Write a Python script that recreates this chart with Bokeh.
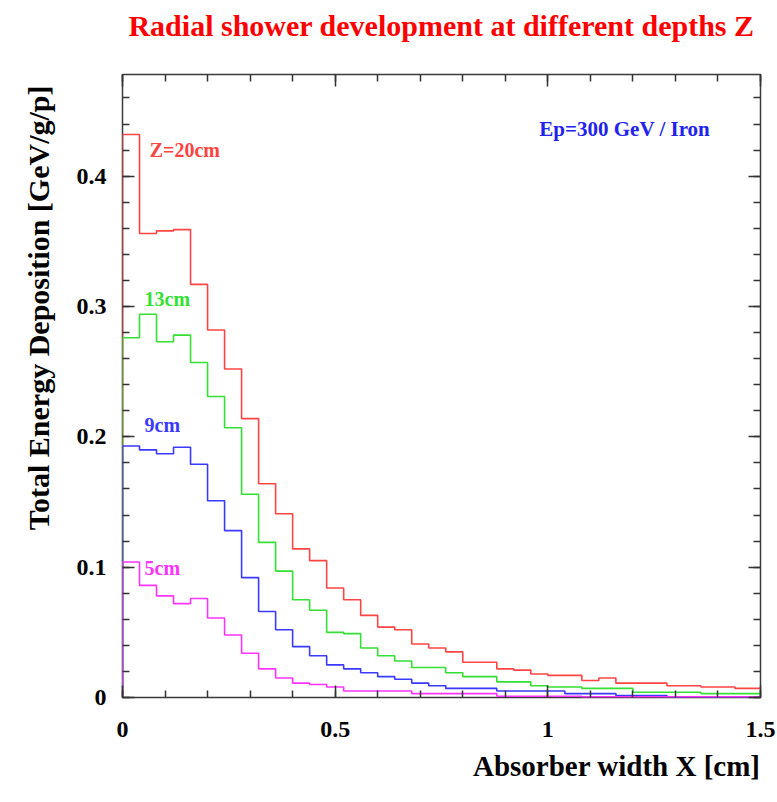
import numpy as np
from bokeh.plotting import figure
from bokeh.models import Range1d, LinearAxis, SingleIntervalTicker, Label, Title
from bokeh.embed import file_html
from bokeh.resources import INLINE

# Bin left edges (cm), bin width 0.04 cm
bin_left = [0.00, 0.04, 0.08, 0.12, 0.16, 0.20, 0.24, 0.28, 0.32, 0.36,
            0.40, 0.44, 0.48, 0.52, 0.56, 0.60, 0.64, 0.68, 0.72, 0.76,
            0.80, 0.84, 0.88, 0.92, 0.96, 1.00, 1.04, 1.08, 1.12, 1.16,
            1.20, 1.24, 1.28, 1.32, 1.36, 1.40, 1.44, 1.48]
bin_end = 1.52

z20 = [0.432, 0.356, 0.358, 0.359, 0.317, 0.282, 0.252, 0.214, 0.164, 0.141,
       0.114, 0.105, 0.084, 0.075, 0.063, 0.054, 0.052, 0.041, 0.038, 0.035,
       0.027, 0.027, 0.022, 0.021, 0.018, 0.017, 0.017, 0.013, 0.015, 0.011,
       0.011, 0.011, 0.009, 0.009, 0.008, 0.008, 0.007, 0.007]
z13 = [0.276, 0.294, 0.273, 0.278, 0.257, 0.231, 0.207, 0.156, 0.119, 0.097,
       0.075, 0.067, 0.050, 0.049, 0.038, 0.032, 0.028, 0.023, 0.023, 0.019,
       0.016, 0.016, 0.012, 0.012, 0.009, 0.008, 0.008, 0.007, 0.007, 0.007,
       0.004, 0.004, 0.004, 0.004, 0.003, 0.003, 0.003, 0.003]
z9 = [0.193, 0.190, 0.187, 0.192, 0.179, 0.151, 0.128, 0.092, 0.066, 0.052,
      0.039, 0.032, 0.025, 0.022, 0.019, 0.016, 0.014, 0.011, 0.009, 0.007,
      0.007, 0.007, 0.005, 0.005, 0.005, 0.005, 0.003, 0.003, 0.003, 0.0015,
      0.0015, 0.0015, 0.0005, 0.0005, 0.0005, 0.0005, 0.0005, 0.0005]
z5 = [0.104, 0.086, 0.078, 0.072, 0.076, 0.061, 0.048, 0.034, 0.022, 0.015,
      0.011, 0.010, 0.008, 0.005, 0.005, 0.005, 0.005, 0.003, 0.003, 0.003,
      0.003, 0.003, 0.001, 0.001, 0.001, 0.001, 0.001, 0.0005, 0.0005, 0.0005,
      0.0005, 0.0005, 0.0005, 0.0005, 0.0005, 0.0005, 0.0005, 0.0005]

series = [
    ("Z=20cm", z20, "#ff4444", 0.064, 0.420),
    ("13cm", z13, "#33e033", 0.052, 0.306),
    ("9cm", z9, "#3a3aff", 0.052, 0.209),
    ("5cm", z5, "#ff33ff", 0.052, 0.099),
]

SERIF = "Liberation Serif"

p = figure(width=777, height=802, output_backend="svg", toolbar_location=None,
           x_range=Range1d(0, 1.5), y_range=Range1d(0, 0.478),
           x_axis_type=None, y_axis_type=None, title=None,
           min_border_left=121, min_border_right=17,
           min_border_top=74, min_border_bottom=105)
p.background_fill_color = "white"
p.border_fill_color = "white"
p.outline_line_color = "#3a3a3a"
p.outline_line_width = 1.5
p.xgrid.visible = False
p.ygrid.visible = False


def make_axis(kind, show_labels):
    if kind == "x":
        tk = SingleIntervalTicker(interval=0.5, num_minor_ticks=5)
    else:
        tk = SingleIntervalTicker(interval=0.1, num_minor_ticks=5)
    ax = LinearAxis(ticker=tk)
    ax.axis_line_color = None
    ax.major_tick_in = 12
    ax.major_tick_out = 0
    ax.minor_tick_in = 7
    ax.minor_tick_out = 0
    ax.major_tick_line_color = "#333333"
    ax.minor_tick_line_color = "#333333"
    ax.major_tick_line_width = 1.5
    ax.minor_tick_line_width = 1.5
    ax.major_label_text_font = SERIF
    ax.major_label_text_font_style = "bold"
    if show_labels:
        ax.major_label_text_font_size = "24px"
        ax.major_label_text_color = "black"
    else:
        ax.major_label_text_font_size = "0px"
        ax.major_label_text_color = None
        ax.major_label_standoff = 0
    return ax


xb = make_axis("x", True)
xb.major_label_standoff = 24
yl = make_axis("y", True)
yl.major_label_standoff = 16
xt = make_axis("x", False)
yr = make_axis("y", False)
p.add_layout(xb, "below")
p.add_layout(yl, "left")
p.add_layout(xt, "above")
p.add_layout(yr, "right")

p.add_layout(Title(text="Radial shower development at different depths Z\n",
                   text_color="#ff0000", text_font=SERIF, text_font_style="bold",
                   text_font_size="30px", align="center", offset=-14, standoff=0),
             "above")
p.add_layout(Title(text="Absorber width X [cm]", text_color="black",
                   text_font=SERIF, text_font_style="bold",
                   text_font_size="29px", align="right", offset=0, standoff=16),
             "below")
p.add_layout(Title(text="Total Energy Deposition [GeV/g/p]", text_color="black",
                   text_font=SERIF, text_font_style="bold",
                   text_font_size="30px", align="right", offset=11, standoff=38),
             "left")

for name, vals, col, lx, ly in series:
    xs = [bin_left[0]] + list(bin_left) + [bin_end]
    ys = [0.0] + list(vals) + [vals[-1]]
    p.step(xs, ys, mode="after", line_color=col, line_width=1.6)
    p.add_layout(Label(x=lx, y=ly, text=name, text_color=col,
                       text_font=SERIF, text_font_style="bold",
                       text_font_size="20px", text_baseline="middle",
                       text_align="left"))

p.add_layout(Label(x=0.98, y=0.436, text="Ep=300 GeV / Iron", text_color="#2222ee",
                   text_font=SERIF, text_font_style="bold",
                   text_font_size="21px", text_baseline="middle", text_align="left"))

open("out.html", "w").write(file_html(p, INLINE))
